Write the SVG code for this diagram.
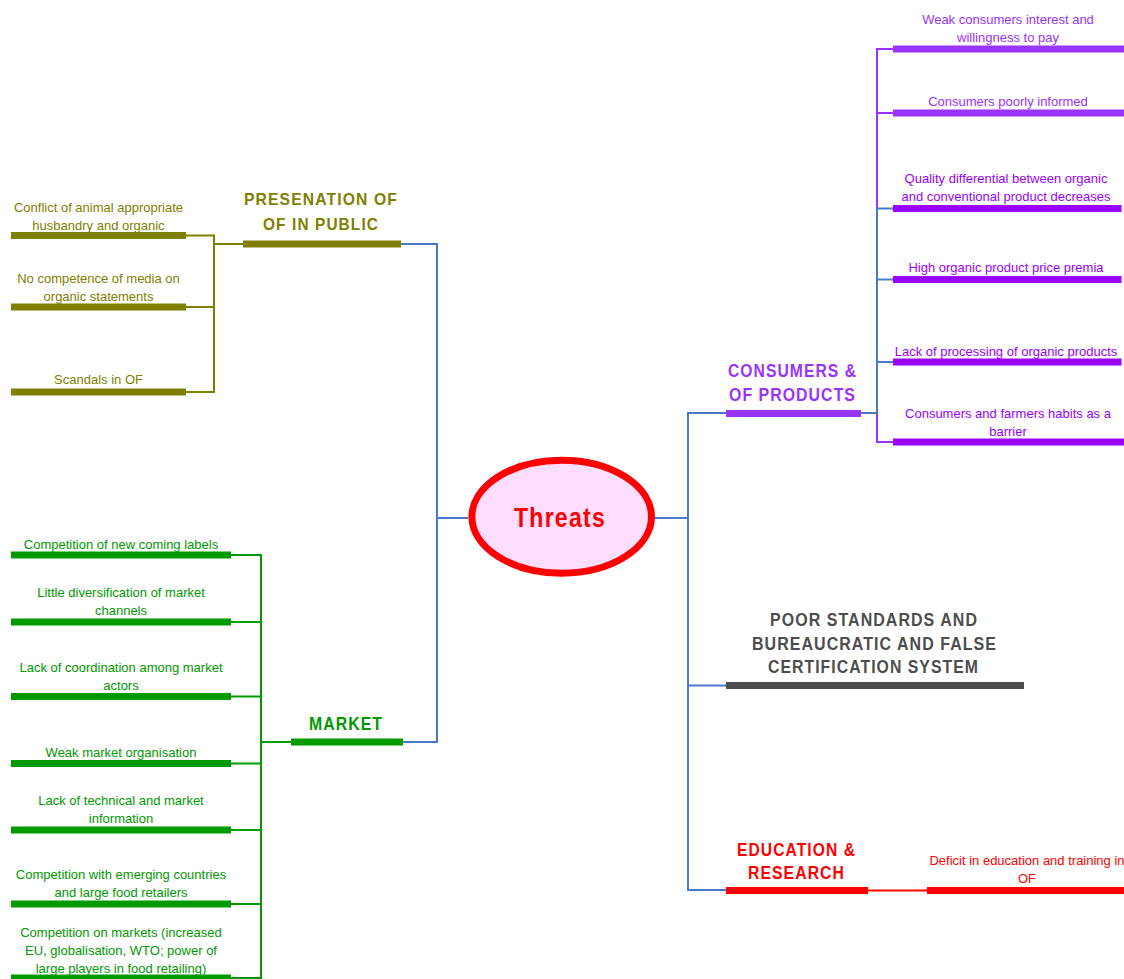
<svg xmlns="http://www.w3.org/2000/svg" width="1124" height="979" viewBox="0 0 1124 979">
<style>
.lbl{font-family:"Liberation Sans",Arial,sans-serif;font-size:13px;text-anchor:middle}
.hd{font-family:"Liberation Sans",Arial,sans-serif;font-size:18px;font-weight:bold;text-anchor:middle;letter-spacing:1.2px}
.bar{stroke-width:7;fill:none}
.thin{stroke-width:2;fill:none}
.blue{stroke:#4A78C8;stroke-width:2;fill:none}
.ol{stroke:#808000}.olt{fill:#808000}
.gr{stroke:#009900}.grt{fill:#009900}
.pu{stroke:#9933FF}.put{fill:#9933FF}
.pv{stroke:#9900FF}.pvt{fill:#9900FF}
.gy{stroke:#4D4D4D}.gyt{fill:#4D4D4D}
.rd{stroke:#FF0000}.rdt{fill:#FF0000}
</style>
<rect width="1124" height="979" fill="#FFFFFF"/>
<g id="connectors">
  <polyline class="blue" points="468,518 437,518"/>
  <polyline class="blue" points="401,244 437,244 437,742 403,742"/>
  <polyline class="blue" points="655,518 688,518"/>
  <polyline class="blue" points="726,413 688,413 688,890 726,890"/>
  <polyline class="blue" points="688,685.5 726,685.5"/>
  <polyline class="thin ol" points="186,235.5 214,235.5 214,392 186,392"/>
  <line class="thin ol" x1="186" y1="307" x2="214" y2="307"/>
  <line class="thin ol" x1="214" y1="244" x2="243" y2="244"/>
  <polyline class="thin gr" points="231,555 261,555 261,979"/>
  <line class="thin gr" x1="231" y1="622" x2="261" y2="622"/>
  <line class="thin gr" x1="231" y1="696.5" x2="261" y2="696.5"/>
  <line class="thin gr" x1="231" y1="763.5" x2="261" y2="763.5"/>
  <line class="thin gr" x1="231" y1="830" x2="261" y2="830"/>
  <line class="thin gr" x1="231" y1="904" x2="261" y2="904"/>
  <line class="thin gr" x1="231" y1="978" x2="261" y2="978"/>
  <line class="thin gr" x1="261" y1="742" x2="291" y2="742"/>
  <polyline class="thin pu" points="893,49 877,49 877,442 893,442"/>
  <line class="thin pu" x1="877" y1="113" x2="893" y2="113"/>
  <polyline class="blue" points="861,413 877,413 877,208.5 893,208.5"/>
  <line class="blue" x1="877" y1="279.5" x2="893" y2="279.5"/>
  <line class="blue" x1="877" y1="362" x2="893" y2="362"/>
  <line class="thin rd" x1="868" y1="890.5" x2="927" y2="890.5"/>
</g>
<g id="threats">
  <ellipse cx="561.7" cy="516.7" rx="89.8" ry="56.5" fill="#FFDDFF" stroke="#FF0000" stroke-width="7"/>
  <text x="560" y="527" font-family="Liberation Sans,Arial,sans-serif" font-size="28" font-weight="bold" fill="#FF0000" text-anchor="middle" letter-spacing="1.5" textLength="92" lengthAdjust="spacingAndGlyphs">Threats</text>
</g>
<g id="presentation">
  <line class="bar ol" x1="243" y1="244" x2="401" y2="244"/>
  <text class="hd olt" x="321" y="205" style="font-size:17px" textLength="154" lengthAdjust="spacingAndGlyphs">PRESENATION OF</text>
  <text class="hd olt" x="321" y="230" style="font-size:17px" textLength="116" lengthAdjust="spacingAndGlyphs">OF IN PUBLIC</text>
</g>
<g id="pres-1">
  <line class="bar ol" x1="11" y1="235.5" x2="186" y2="235.5"/>
  <text class="lbl olt" x="98.5" y="212">Conflict of animal appropriate</text>
  <text class="lbl olt" x="98.5" y="229.5">husbandry and organic</text>
</g>
<g id="pres-2">
  <line class="bar ol" x1="11" y1="307" x2="186" y2="307"/>
  <text class="lbl olt" x="98.5" y="283">No competence of media on</text>
  <text class="lbl olt" x="98.5" y="301">organic statements</text>
</g>
<g id="pres-3">
  <line class="bar ol" x1="11" y1="392" x2="186" y2="392"/>
  <text class="lbl olt" x="98.5" y="384">Scandals in OF</text>
</g>
<g id="market">
  <line class="bar gr" x1="291" y1="742" x2="403" y2="742"/>
  <text class="hd grt" x="346" y="730" textLength="74" lengthAdjust="spacingAndGlyphs">MARKET</text>
</g>
<g id="market-1">
  <line class="bar gr" x1="11" y1="555" x2="231" y2="555"/>
  <text class="lbl grt" x="121" y="549">Competition of new coming labels</text>
</g>
<g id="market-2">
  <line class="bar gr" x1="11" y1="622" x2="231" y2="622"/>
  <text class="lbl grt" x="121" y="597">Little diversification of market</text>
  <text class="lbl grt" x="121" y="615">channels</text>
</g>
<g id="market-3">
  <line class="bar gr" x1="11" y1="696.5" x2="231" y2="696.5"/>
  <text class="lbl grt" x="121" y="672">Lack of coordination among market</text>
  <text class="lbl grt" x="121" y="689.5">actors</text>
</g>
<g id="market-4">
  <line class="bar gr" x1="11" y1="763.5" x2="231" y2="763.5"/>
  <text class="lbl grt" x="121" y="757">Weak market organisation</text>
</g>
<g id="market-5">
  <line class="bar gr" x1="11" y1="830" x2="231" y2="830"/>
  <text class="lbl grt" x="121" y="805">Lack of technical and market</text>
  <text class="lbl grt" x="121" y="823">information</text>
</g>
<g id="market-6">
  <line class="bar gr" x1="11" y1="904" x2="231" y2="904"/>
  <text class="lbl grt" x="121" y="879">Competition with emerging countries</text>
  <text class="lbl grt" x="121" y="897">and large food retailers</text>
</g>
<g id="market-7">
  <line class="bar gr" x1="11" y1="978" x2="231" y2="978"/>
  <text class="lbl grt" x="121" y="937">Competition on markets (increased</text>
  <text class="lbl grt" x="121" y="955">EU, globalisation, WTO; power of</text>
  <text class="lbl grt" x="121" y="972.5">large players in food retailing)</text>
</g>
<g id="consumers">
  <line class="bar pu" x1="726" y1="413.5" x2="861" y2="413.5"/>
  <text class="hd put" x="792.5" y="377" textLength="129" lengthAdjust="spacingAndGlyphs">CONSUMERS &amp;</text>
  <text class="hd put" x="792.5" y="401" textLength="127" lengthAdjust="spacingAndGlyphs">OF PRODUCTS</text>
</g>
<g id="cons-1">
  <line class="bar pu" x1="893" y1="49" x2="1124" y2="49"/>
  <text class="lbl put" x="1008" y="24">Weak consumers interest and</text>
  <text class="lbl put" x="1008" y="42">willingness to pay</text>
</g>
<g id="cons-2">
  <line class="bar pu" x1="893" y1="113" x2="1124" y2="113"/>
  <text class="lbl put" x="1008" y="106">Consumers poorly informed</text>
</g>
<g id="cons-3">
  <line class="bar pv" x1="893" y1="208.5" x2="1121.5" y2="208.5"/>
  <text class="lbl pvt" x="1006" y="183">Quality differential between organic</text>
  <text class="lbl pvt" x="1006" y="200.5">and conventional product decreases</text>
</g>
<g id="cons-4">
  <line class="bar pv" x1="893" y1="279.5" x2="1121.5" y2="279.5"/>
  <text class="lbl pvt" x="1006" y="272">High organic product price premia</text>
</g>
<g id="cons-5">
  <line class="bar pv" x1="893" y1="362" x2="1121.5" y2="362"/>
  <text class="lbl pvt" x="1006" y="356">Lack of processing of organic products</text>
</g>
<g id="cons-6">
  <line class="bar pv" x1="893" y1="442" x2="1124" y2="442"/>
  <text class="lbl pvt" x="1008" y="418">Consumers and farmers habits as a</text>
  <text class="lbl pvt" x="1008" y="435.5">barrier</text>
</g>
<g id="standards">
  <line class="bar gy" x1="726" y1="685.5" x2="1024" y2="685.5"/>
  <text class="hd gyt" x="874" y="626" textLength="208" lengthAdjust="spacingAndGlyphs">POOR STANDARDS AND</text>
  <text class="hd gyt" x="874.5" y="650" textLength="245" lengthAdjust="spacingAndGlyphs">BUREAUCRATIC AND FALSE</text>
  <text class="hd gyt" x="873.5" y="673" textLength="211" lengthAdjust="spacingAndGlyphs">CERTIFICATION SYSTEM</text>
</g>
<g id="education">
  <line class="bar rd" x1="726" y1="890.5" x2="868" y2="890.5"/>
  <text class="hd rdt" x="796.5" y="856" textLength="119" lengthAdjust="spacingAndGlyphs">EDUCATION &amp;</text>
  <text class="hd rdt" x="796.5" y="879" textLength="97" lengthAdjust="spacingAndGlyphs">RESEARCH</text>
</g>
<g id="edu-1">
  <line class="bar rd" x1="927" y1="890.5" x2="1124" y2="890.5"/>
  <text class="lbl rdt" x="1027" y="865">Deficit in education and training in</text>
  <text class="lbl rdt" x="1027" y="883">OF</text>
</g>
</svg>
